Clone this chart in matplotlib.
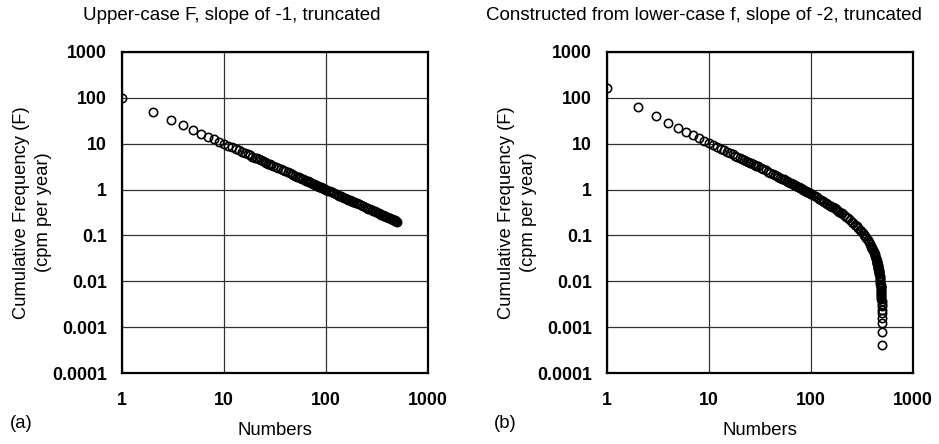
import matplotlib
matplotlib.use("Agg")
import matplotlib.pyplot as plt

plt.rcParams['font.family'] = ['Liberation Sans', 'DejaVu Sans']

# ranks plotted on the x axis
numbers_a = (list(range(1, 31)) + list(range(32, 101, 2)) + list(range(105, 201, 5))
             + list(range(210, 501, 10)))
numbers_b = (list(range(1, 31)) + list(range(32, 101, 2)) + list(range(105, 201, 5))
             + list(range(210, 371, 10)) + list(range(380, 436, 5))
             + list(range(440, 479, 2)) + list(range(480, 501)))

# (a) upper-case F, slope -1
freq_a = [100, 50, 33.3, 25, 20, 16.7, 14.3, 12.5, 11.1, 10,
          9.09, 8.33, 7.69, 7.14, 6.67, 6.25, 5.88, 5.56, 5.26, 5.0,
          4.76, 4.55, 4.35, 4.17, 4.0, 3.85, 3.70, 3.57, 3.45, 3.33,
          3.125, 2.941, 2.778, 2.632, 2.5, 2.381, 2.273, 2.174, 2.083, 2.0,
          1.923, 1.852, 1.786, 1.724, 1.667, 1.613, 1.5625, 1.515, 1.471, 1.429,
          1.389, 1.351, 1.316, 1.282, 1.25, 1.220, 1.190, 1.163, 1.136, 1.111,
          1.087, 1.064, 1.042, 1.020, 1.0,
          0.952, 0.909, 0.870, 0.833, 0.8, 0.769, 0.741, 0.714, 0.690, 0.667,
          0.645, 0.625, 0.606, 0.588, 0.571, 0.556, 0.541, 0.526, 0.513, 0.5,
          0.476, 0.455, 0.435, 0.417, 0.4, 0.385, 0.370, 0.357, 0.345, 0.333,
          0.323, 0.3125, 0.303, 0.294, 0.286, 0.278, 0.270, 0.263, 0.256, 0.25,
          0.244, 0.238, 0.233, 0.227, 0.222, 0.217, 0.213, 0.208, 0.204, 0.2]

# (b) constructed from lower-case f, slope -2
freq_b = [164.3, 64.3, 39.3, 28.2, 21.9, 17.9, 15.15, 13.11, 11.55, 10.32,
          9.32, 8.50, 7.80, 7.21, 6.70, 6.25, 5.86, 5.51, 5.21, 4.93,
          4.68, 4.45, 4.24, 4.06, 3.88, 3.72, 3.57, 3.44, 3.31, 3.19,
          2.975, 2.785, 2.617, 2.467, 2.332, 2.210, 2.099, 1.998, 1.905, 1.820,
          1.742, 1.669, 1.602, 1.539, 1.481, 1.426, 1.375, 1.327, 1.282, 1.239,
          1.199, 1.161, 1.125, 1.091, 1.058, 1.027, 0.998, 0.970, 0.943, 0.918,
          0.893, 0.870, 0.847, 0.826, 0.805,
          0.757, 0.713, 0.674, 0.637, 0.603, 0.572, 0.544, 0.517, 0.492, 0.469,
          0.447, 0.427, 0.408, 0.390, 0.373, 0.357, 0.342, 0.328, 0.314, 0.301,
          0.2775, 0.2558, 0.2359, 0.2177, 0.2010, 0.1856, 0.1713, 0.1580, 0.1456, 0.1341,
          0.1233, 0.1132, 0.1037, 0.0948, 0.0863, 0.0784, 0.0708,
          0.0637, 0.0603, 0.0569, 0.0537, 0.0505, 0.0474, 0.0444, 0.0415, 0.0386, 0.0358,
          0.0330, 0.0304,
          0.02773, 0.02670, 0.02568, 0.02467, 0.02366, 0.02267, 0.02168, 0.02071, 0.01974, 0.01878,
          0.01783, 0.01689, 0.01595, 0.01502, 0.01410, 0.01319, 0.01229, 0.01139, 0.01051, 0.00962,
          0.00875, 0.00832, 0.00788, 0.00745, 0.00703, 0.00660, 0.00617, 0.00575, 0.00533, 0.00491,
          0.00449, 0.00407, 0.00366, 0.00325, 0.00283, 0.00242, 0.00202, 0.00161, 0.00121, 0.00080,
          0.00040]

x_ticks = [1, 10, 100, 1000]
x_labels = ['1', '10', '100', '1000']
y_ticks = [0.0001, 0.001, 0.01, 0.1, 1, 10, 100, 1000]
y_labels = ['0.0001', '0.001', '0.01', '0.1', '1', '10', '100', '1000']

titles = ['Upper-case F, slope of -1, truncated',
          'Constructed from lower-case f, slope of -2, truncated']
panel_tags = ['(a)', '(b)']

fig = plt.figure(figsize=(9.39, 4.44), dpi=100)
ax1 = fig.add_axes([122 / 939, 1 - 373 / 444, 306 / 939, 321 / 444])
ax2 = fig.add_axes([607 / 939, 1 - 373 / 444, 306 / 939, 321 / 444])

for ax, xs, ys in [(ax1, numbers_a, freq_a), (ax2, numbers_b, freq_b)]:
    ax.plot(xs, ys, 'o', ms=6.0, mfc='none', mec='black', mew=1.15, zorder=3)
    ax.set_xscale('log')
    ax.set_yscale('log')
    ax.set_xlim(1, 1000)
    ax.set_ylim(0.0001, 1000)
    ax.set_xticks(x_ticks)
    ax.set_xticklabels(x_labels, fontsize=12.8, fontweight='bold')
    ax.set_yticks(y_ticks)
    ax.set_yticklabels(y_labels, fontsize=12.8, fontweight='bold')
    ax.minorticks_off()
    ax.tick_params(axis='y', length=0, pad=11)
    ax.tick_params(axis='x', length=0, pad=14)
    ax.grid(True, color='#333333', lw=0.9)
    for s in ax.spines.values():
        s.set_linewidth(1.6)
    ax.set_xlabel('Numbers', fontsize=13.3, labelpad=9)
    ax.set_ylabel('Cumulative Frequency (F)\n(cpm per year)', fontsize=13.2,
                  labelpad=0, linespacing=1.35)

# panel titles sit a little left of the axes centres
fig.text(232 / 939, 1 - 15 / 444, titles[0], fontsize=13.5, ha='center', va='center')
fig.text(704 / 939, 1 - 15 / 444, titles[1], fontsize=13.5, ha='center', va='center')

fig.text(10 / 939, 1 - 423 / 444, panel_tags[0], fontsize=13.3, va='center')
fig.text(494 / 939, 1 - 423 / 444, panel_tags[1], fontsize=13.3, va='center')

fig.savefig('out.png', dpi=100)
